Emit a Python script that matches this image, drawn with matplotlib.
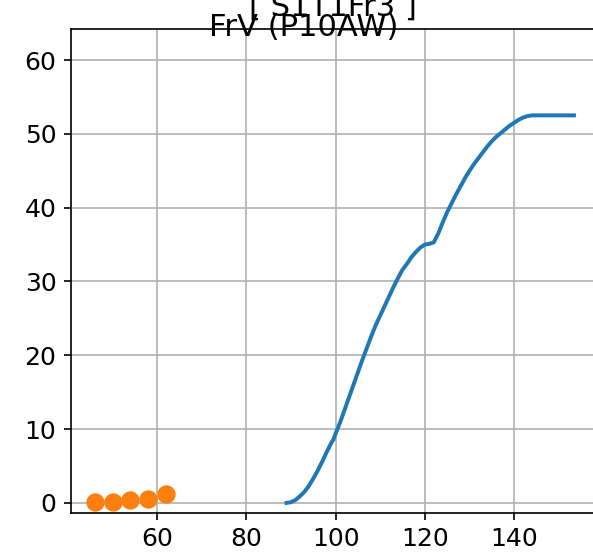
import matplotlib
matplotlib.use("Agg")
import matplotlib.pyplot as plt

# blue curve
curve_x = [89, 90, 91, 92, 93, 94, 95, 96, 97, 98, 99, 99.5, 100, 101, 102,
           103, 104, 105, 106, 107, 108, 109, 110, 111, 112, 113, 114, 115,
           116, 117, 118, 119, 120, 121, 122, 123, 124, 125, 126, 127, 128,
           129, 130, 131, 132, 133, 134, 135, 136, 137, 138, 139, 140, 141,
           142, 143, 144, 146, 148, 150, 153.4]
curve_y = [0.0, 0.1, 0.4, 0.9, 1.5, 2.3, 3.3, 4.4, 5.6, 6.9, 8.1, 8.6, 9.4,
           10.9, 12.6, 14.3, 16.0, 17.7, 19.4, 21.0, 22.6, 24.1, 25.4, 26.7,
           28.0, 29.3, 30.5, 31.6, 32.4, 33.3, 34.0, 34.6, 35.0, 35.1, 35.3,
           36.5, 38.0, 39.4, 40.6, 41.8, 42.9, 44.0, 45.0, 45.9, 46.7, 47.5,
           48.3, 49.0, 49.6, 50.1, 50.6, 51.1, 51.5, 51.9, 52.2, 52.4, 52.5,
           52.5, 52.5, 52.5, 52.5]

# orange points
pts_x = [46, 50, 54, 58, 62]
pts_y = [0.1, 0.15, 0.35, 0.55, 1.2]

W, H = 593, 558
PX = 4.4625  # pixels per x unit in the reference
X0 = 40.7
fig = plt.figure(figsize=(W / 150, H / 150), dpi=150)
# axes run well past the picture's right edge, as in the reference crop
ax = fig.add_axes([71 / W, (H - 512.5) / H, (640 - 71) / W, (512.5 - 29) / H])

ax.plot(curve_x, curve_y, color="C0", linewidth=1.9)
ax.plot(pts_x, pts_y, "o", color="C1", markersize=7.8, linestyle="none")

ax.set_xlim(X0, X0 + (640 - 71) / PX)
ax.set_ylim(-1.3, 64.2)
ax.set_xticks([60, 80, 100, 120, 140])
ax.set_yticks([0, 10, 20, 30, 40, 50, 60])
ax.tick_params(labelsize=12)
ax.grid(True)
ax.set_axisbelow(True)

fig.text(333 / W, 1 - 15.5 / H, "[ S1T1Fr3 ]", ha="center", va="baseline",
         fontsize=14.7)
fig.text(304 / W, 1 - 35.5 / H, "FrV (P10AW)", ha="center", va="baseline",
         fontsize=14.7)

fig.savefig("out.png", dpi=150)
